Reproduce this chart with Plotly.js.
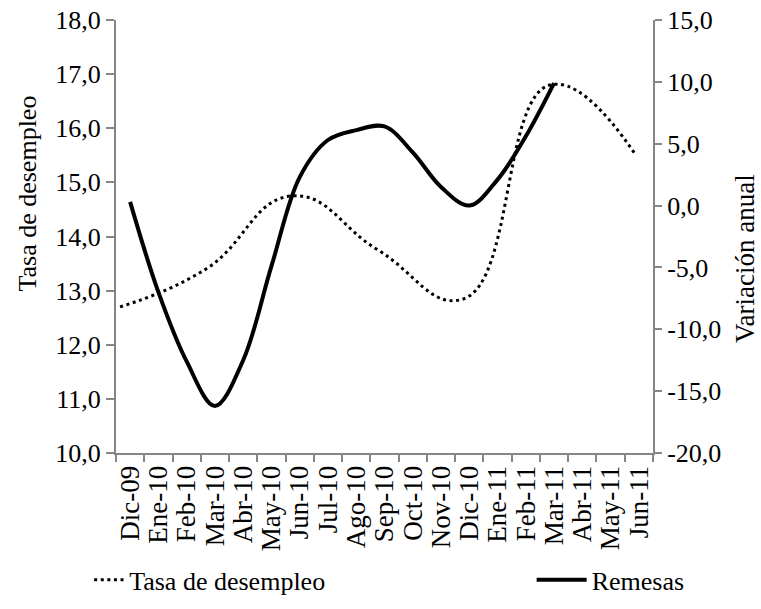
<!DOCTYPE html>
<html>
<head>
<meta charset="utf-8">
<script src="https://cdn.plot.ly/plotly-3.0.1.min.js"></script>
<style>html,body{margin:0;padding:0;background:#fff;}#chart{width:761px;height:609px;}</style>
</head>
<body>
<div id="chart"></div>
<script>
// Monthly categories
const months = ["Dic-09","Ene-10","Feb-10","Mar-10","Abr-10","May-10","Jun-10","Jul-10","Ago-10","Sep-10","Oct-10","Nov-10","Dic-10","Ene-11","Feb-11","Mar-11","Abr-11","May-11","Jun-11"];
// Remesas, variación anual (%), right axis
const remesas = [0.3, -7.0, -12.6, -16.2, -12.5, -4.9, 2.3, 5.3, 6.1, 6.4, 4.3, 1.5, 0.0, 2.1, 5.6, 9.9, null, null, null];
// Tasa de desempleo (quarterly), left axis
const quarters = ["Dic-09","Mar-10","Jun-10","Sep-10","Dic-10","Mar-11","Jun-11"];
const desempleo = [12.7, 13.4, 14.75, 13.75, 12.85, 16.8, 15.5];
// Tick labels
const leftTicks = [10, 11, 12, 13, 14, 15, 16, 17, 18];
const leftLabels = ["10,0","11,0","12,0","13,0","14,0","15,0","16,0","17,0","18,0"];
const rightTicks = [-20, -15, -10, -5, 0, 5, 10, 15];
const rightLabels = ["-20,0","-15,0","-10,0","-5,0","0,0","5,0","10,0","15,0"];

const FONT = "Liberation Serif, Times New Roman, serif";
const axisGray = "#868686";

const traces = [
  { x: [], y: [], xaxis: "x", yaxis: "y", type: "scatter", mode: "lines", showlegend: false, hoverinfo: "skip" },
  {
    x: quarters, y: desempleo, name: "Tasa de desempleo", legend: "legend",
    type: "scatter", mode: "lines", xaxis: "x2", yaxis: "y",
    line: {color: "#000", width: 3, dash: "3px,3.6px", shape: "spline", smoothing: 1.3}
  },
  {
    x: months, y: remesas, name: "Remesas", legend: "legend2",
    type: "scatter", mode: "lines", xaxis: "x", yaxis: "y2",
    line: {color: "#000", width: 4, shape: "spline", smoothing: 1}
  }
];

const layout = {
  width: 761, height: 609,
  margin: {l: 116, r: 108, t: 20, b: 156, autoexpand: false},
  paper_bgcolor: "#fff", plot_bgcolor: "#fff",
  font: {family: FONT, color: "#000", size: 24},
  showlegend: true,
  legend: {
    orientation: "h", yanchor: "middle", y: -0.293, xanchor: "left", x: -0.05,
    font: {family: FONT, size: 26, color: "#000"},
    itemwidth: 30, bgcolor: "rgba(0,0,0,0)", borderwidth: 0
  },
  legend2: {
    orientation: "h", yanchor: "middle", y: -0.293, xanchor: "left", x: 0.774,
    font: {family: FONT, size: 26, color: "#000"},
    itemwidth: 50, bgcolor: "rgba(0,0,0,0)", borderwidth: 0
  },
  xaxis: {
    type: "category", range: [-0.5, 18.5],
    tickmode: "linear", tick0: 0, dtick: 1,
    showline: true, linecolor: axisGray, linewidth: 2,
    ticks: "outside", ticklen: 7, tickcolor: axisGray, tickwidth: 2,
    tickson: "boundaries", tickangle: -90,
    showgrid: false, zeroline: false, fixedrange: true,
    tickfont: {family: FONT, size: 27, color: "#000"}
  },
  xaxis2: {
    type: "category", overlaying: "x", range: [-0.047, 6.198],
    visible: false, showgrid: false, zeroline: false
  },
  yaxis: {
    range: [10, 18], tickvals: leftTicks, ticktext: leftLabels,
    showline: true, linecolor: axisGray, linewidth: 2,
    ticks: "outside", ticklen: 8, tickcolor: axisGray, tickwidth: 2,
    showgrid: false, zeroline: false,
    tickfont: {family: FONT, size: 26, color: "#000"}
  },
  yaxis2: {
    range: [-20, 15], tickvals: rightTicks, ticktext: rightLabels,
    overlaying: "y", side: "right",
    showline: true, linecolor: axisGray, linewidth: 2,
    ticks: "outside", ticklen: 7, tickcolor: axisGray, tickwidth: 2,
    showgrid: false, zeroline: false,
    tickfont: {family: FONT, size: 26, color: "#000"}
  },
  annotations: [
    {text: "Tasa de desempleo", xref: "paper", yref: "paper", x: -0.165, y: 0.600,
     xanchor: "center", yanchor: "middle", textangle: -90, showarrow: false,
     font: {family: FONT, size: 26, color: "#000"}},
    {text: "Variación anual", xref: "paper", yref: "paper", x: 1.171, y: 0.450,
     xanchor: "center", yanchor: "middle", textangle: -90, showarrow: false,
     font: {family: FONT, size: 27, color: "#000"}}
  ]
};

Plotly.newPlot("chart", traces, layout, {displayModeBar: false, staticPlot: true});
</script>
</body>
</html>
